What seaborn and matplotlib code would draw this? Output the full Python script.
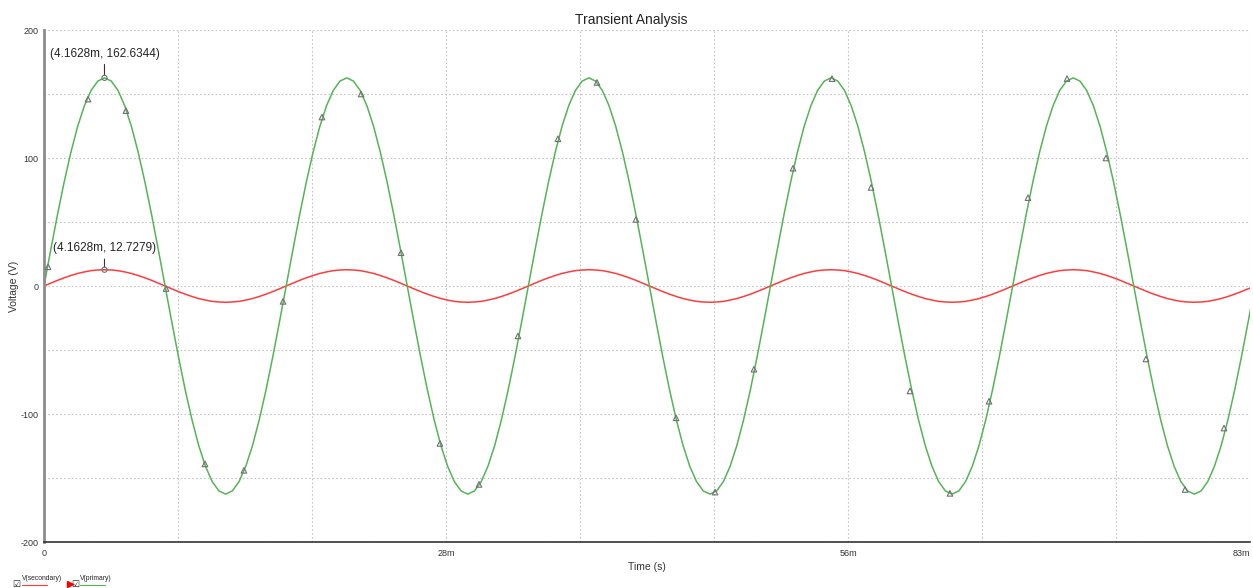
import numpy as np
import pandas as pd
import seaborn as sns
import matplotlib
matplotlib.use("Agg")
import matplotlib.pyplot as plt
from matplotlib.lines import Line2D

# transient samples, one every 10 degrees of the 60 Hz supply
step_ms = 0.46296

primary = [
    0, 28.2, 55.6, 81.3, 104.5, 124.6, 140.8, 152.8, 160.1, 162.6, 160.1, 152.8, 140.8, 124.6, 104.5, 81.3, 55.6, 28.2,
    0, -28.2, -55.6, -81.3, -104.5, -124.6, -140.8, -152.8, -160.1, -162.6, -160.1, -152.8, -140.8, -124.6, -104.5, -81.3, -55.6, -28.2,
    0, 28.2, 55.6, 81.3, 104.5, 124.6, 140.8, 152.8, 160.1, 162.6, 160.1, 152.8, 140.8, 124.6, 104.5, 81.3, 55.6, 28.2,
    0, -28.2, -55.6, -81.3, -104.5, -124.6, -140.8, -152.8, -160.1, -162.6, -160.1, -152.8, -140.8, -124.6, -104.5, -81.3, -55.6, -28.2,
    0, 28.2, 55.6, 81.3, 104.5, 124.6, 140.8, 152.8, 160.1, 162.6, 160.1, 152.8, 140.8, 124.6, 104.5, 81.3, 55.6, 28.2,
    0, -28.2, -55.6, -81.3, -104.5, -124.6, -140.8, -152.8, -160.1, -162.6, -160.1, -152.8, -140.8, -124.6, -104.5, -81.3, -55.6, -28.2,
    0, 28.2, 55.6, 81.3, 104.5, 124.6, 140.8, 152.8, 160.1, 162.6, 160.1, 152.8, 140.8, 124.6, 104.5, 81.3, 55.6, 28.2,
    0, -28.2, -55.6, -81.3, -104.5, -124.6, -140.8, -152.8, -160.1, -162.6, -160.1, -152.8, -140.8, -124.6, -104.5, -81.3, -55.6, -28.2,
    0, 28.2, 55.6, 81.3, 104.5, 124.6, 140.8, 152.8, 160.1, 162.6, 160.1, 152.8, 140.8, 124.6, 104.5, 81.3, 55.6, 28.2,
    0, -28.2, -55.6, -81.3, -104.5, -124.6, -140.8, -152.8, -160.1, -162.6, -160.1, -152.8, -140.8, -124.6, -104.5, -81.3, -55.6, -28.2,
    0,
]

secondary = [
    0, 2.2, 4.4, 6.4, 8.2, 9.8, 11.0, 12.0, 12.5, 12.7, 12.5, 12.0, 11.0, 9.8, 8.2, 6.4, 4.4, 2.2,
    0, -2.2, -4.4, -6.4, -8.2, -9.8, -11.0, -12.0, -12.5, -12.7, -12.5, -12.0, -11.0, -9.8, -8.2, -6.4, -4.4, -2.2,
    0, 2.2, 4.4, 6.4, 8.2, 9.8, 11.0, 12.0, 12.5, 12.7, 12.5, 12.0, 11.0, 9.8, 8.2, 6.4, 4.4, 2.2,
    0, -2.2, -4.4, -6.4, -8.2, -9.8, -11.0, -12.0, -12.5, -12.7, -12.5, -12.0, -11.0, -9.8, -8.2, -6.4, -4.4, -2.2,
    0, 2.2, 4.4, 6.4, 8.2, 9.8, 11.0, 12.0, 12.5, 12.7, 12.5, 12.0, 11.0, 9.8, 8.2, 6.4, 4.4, 2.2,
    0, -2.2, -4.4, -6.4, -8.2, -9.8, -11.0, -12.0, -12.5, -12.7, -12.5, -12.0, -11.0, -9.8, -8.2, -6.4, -4.4, -2.2,
    0, 2.2, 4.4, 6.4, 8.2, 9.8, 11.0, 12.0, 12.5, 12.7, 12.5, 12.0, 11.0, 9.8, 8.2, 6.4, 4.4, 2.2,
    0, -2.2, -4.4, -6.4, -8.2, -9.8, -11.0, -12.0, -12.5, -12.7, -12.5, -12.0, -11.0, -9.8, -8.2, -6.4, -4.4, -2.2,
    0, 2.2, 4.4, 6.4, 8.2, 9.8, 11.0, 12.0, 12.5, 12.7, 12.5, 12.0, 11.0, 9.8, 8.2, 6.4, 4.4, 2.2,
    0, -2.2, -4.4, -6.4, -8.2, -9.8, -11.0, -12.0, -12.5, -12.7, -12.5, -12.0, -11.0, -9.8, -8.2, -6.4, -4.4, -2.2,
    0,
]

# triangle trace markers on V(primary)
marker_t = [0.28, 3.03, 5.64, 8.40, 11.08, 13.76, 16.45, 19.13, 21.82, 24.57, 27.25,
            29.94, 32.62, 35.37, 38.06, 40.74, 43.50, 46.18, 48.86, 51.55, 54.23,
            56.92, 59.60, 62.35, 65.04, 67.72, 70.41, 73.09, 75.84, 78.53, 81.21]
marker_v = [15, 146, 137, -2, -139, -144, -12, 132, 150, 26, -123,
            -155, -39, 115, 159, 52, -103, -161, -65, 92, 162,
            77, -82, -162, -90, 69, 162, 100, -57, -159, -111]

# cursor readouts
cursor_t = 4.1628
cursor_primary = 162.6344
cursor_secondary = 12.7279

x_ticks = [0, 83 / 3, 166 / 3, 83]
x_labels = ["0", "28m", "56m", "83m"]
x_grid = [83 * i / 9 for i in range(10)]
y_ticks = [-200, -100, 0, 100, 200]
y_grid = [-200, -150, -100, -50, 0, 50, 100, 150, 200]

green = "#55b455"
red = "#ff3c3c"

sns.set_theme(style="white")
plt.rcParams["font.family"] = ["Liberation Sans", "DejaVu Sans"]

time = np.arange(len(primary)) * step_ms
df = pd.DataFrame({
    "time": np.concatenate([time, time]),
    "voltage": secondary + primary,
    "trace": ["V(secondary)"] * len(secondary) + ["V(primary)"] * len(primary),
})

fig = plt.figure(figsize=(12.53, 5.88), dpi=100)
ax = fig.add_axes([44 / 1253, 1 - 542 / 588, 1206 / 1253, 512 / 588])

sns.lineplot(data=df, x="time", y="voltage", hue="trace",
             palette={"V(secondary)": red, "V(primary)": green},
             linewidth=1.1, estimator=None, sort=False, legend=False, ax=ax)
sns.scatterplot(x=marker_t, y=marker_v, marker="^", s=16, color="none",
                edgecolor="#707070", linewidth=0.8, ax=ax, zorder=4)

# cursors
for val, off in [(cursor_primary, 13), (cursor_secondary, 11)]:
    ax.scatter([cursor_t], [val], s=14, facecolor="none", edgecolor="#707070",
               linewidth=0.8, zorder=5)
    ax.annotate(f"({cursor_t}m, {val})", xy=(cursor_t, val),
                xytext=(0, off), textcoords="offset points",
                ha="center", va="bottom", fontsize=8.5, color="#222222",
                arrowprops=dict(arrowstyle="-", color="#333333", lw=0.8,
                                shrinkA=1, shrinkB=2))

ax.set_xlim(0, 83)
ax.set_ylim(-200, 200)
ax.set_xticks(x_grid, minor=True)
ax.set_yticks(y_grid, minor=True)
ax.set_xticks(x_ticks, labels=x_labels)
ax.set_yticks(y_ticks, labels=[str(v) for v in y_ticks])
ax.grid(which="both", color="#c4c4c4", linestyle=(0, (1.5, 2)), linewidth=0.8)
ax.tick_params(which="major", labelsize=6.5, labelcolor="#333333", length=3,
               width=0.8, color="#555555", pad=2)
ax.tick_params(which="minor", length=0)
ax.tick_params(axis="y", which="major", length=0, pad=4)
ax.get_xticklabels()[-1].set_ha("right")

for side in ["top", "right"]:
    ax.spines[side].set_visible(False)
ax.spines["left"].set_color("#8c8c8c")
ax.spines["left"].set_linewidth(2)
ax.spines["bottom"].set_color("#333333")
ax.spines["bottom"].set_linewidth(1.2)

ax.set_xlabel("Time (s)", fontsize=7.5, color="#333333")
ax.set_ylabel("Voltage (V)", fontsize=7.5, color="#333333")
ax.xaxis.set_label_coords(0.5, -25 / 512)
ax.xaxis.label.set_va("center")
ax.yaxis.set_label_coords(-30 / 1206, 0.5)
ax.yaxis.label.set_va("center")

fig.text(631 / 1253, 1 - 20 / 588, "Transient Analysis", ha="center", va="center",
         fontsize=10, color="#222222")

# legend strip at the bottom left
W, H = 1253, 588
for cx in [16.5, 75.5]:
    fig.text(cx / W, 1 - 584 / H, "\u2611", family="DejaVu Sans", fontsize=6.5,
             ha="center", va="center", color="#222222")
fig.add_artist(Line2D([69.5 / W], [1 - 584 / H], marker=">", markersize=4,
                      color="red", linestyle="none"))
for x0, x1, label, col in [(22, 47, "V(secondary)", red), (80, 105, "V(primary)", green)]:
    fig.text(x0 / W, 1 - 578 / H, label, fontsize=4.9, ha="left", va="center",
             color="#222222")
    fig.add_artist(Line2D([x0 / W, x1 / W], [1 - 585 / H, 1 - 585 / H],
                          color=col, linewidth=0.8))

fig.savefig("out.png", dpi=100)
